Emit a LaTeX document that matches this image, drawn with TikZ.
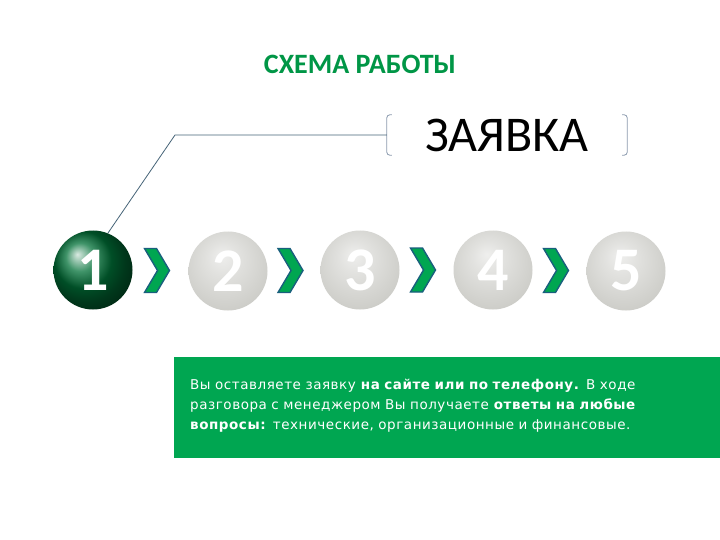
\documentclass[tikz,border=0pt]{standalone}
\usepackage{fontspec}
\setmainfont{Carlito}
\newfontfamily\bodyfont[LetterSpace=4]{DejaVu Sans}
\usepackage{tikz}
\usetikzlibrary{calc}
\definecolor{leaf}{RGB}{0,166,81}
\definecolor{title}{RGB}{0,150,70}
\definecolor{deep}{RGB}{0,112,55}
\definecolor{edge}{RGB}{25,95,125}
\definecolor{wire}{RGB}{70,100,120}
\definecolor{brace}{RGB}{140,155,175}
\definecolor{shell}{RGB}{190,190,184}

% light grey pearl
\pgfdeclareradialshading{pearl}{\pgfpoint{-4bp}{10bp}}{%
    color(0bp)=(shell!25); color(10bp)=(shell!45); color(28bp)=(shell!75);
    color(40bp)=(shell); color(46bp)=(shell!85!black); color(50bp)=(shell!70!black)}

\tikzset{
    orb/.style={circle, minimum size=79pt, inner sep=0pt,
            text=white, font=\fontsize{62}{62}\selectfont\bfseries},
    chev/.style={fill=leaf, draw=edge, line width=1.4pt, line join=miter},
}

\begin{document}
\begin{tikzpicture}[x=1pt, y=-1pt]

    \useasboundingbox[fill=white] (0,0) rectangle (720,540);

    \node[text=title, font=\fontsize{28}{28}\selectfont\bfseries] (head) at (360,64) {СХЕМА РАБОТЫ};

    \node[orb, shading=ball, ball color=deep] (s1) at (93,270) {1};
    \node[orb, shading=pearl] (s2) at (228,271) {2};
    \node[orb, shading=pearl] (s3) at (360,270) {3};
    \node[orb, shading=pearl] (s4) at (493,270) {4};
    \node[orb, shading=pearl] (s5) at (626,271) {5};

    \foreach \a/\b in {1/2, 2/3, 3/4, 4/5} {
            \draw[chev, shift={($(s\a.east)!0.5!(s\b.west)$)}]
            (-16,-22) -- (-4,-22) -- (9,0) -- (-4,22) -- (-16,22) -- (-3,0) -- cycle;
        }

    \node[minimum width=240pt, minimum height=40pt, inner sep=0pt,
        font=\fontsize{50}{50}\selectfont] (req) at (507,135) {ЗАЯВКА};
    \draw[brace, line width=0.8pt, rounded corners=3pt]
    ($(req.north west)+(5,0)$) -- (req.north west) -- (req.south west) -- ($(req.south west)+(5,0)$);
    \draw[brace, line width=0.8pt, rounded corners=3pt]
    ($(req.north east)+(-5,0)$) -- (req.north east) -- (req.south east) -- ($(req.south east)+(-5,0)$);

    \coordinate (bend) at (175,135);
    \draw[wire, line width=0.8pt] (s1.68) -- (bend) -- (req.west);

    \node[fill=leaf, minimum width=546pt, minimum height=101pt, inner sep=0pt,
        anchor=north west] (card) at (174,357) {};
    \node[anchor=north west, text=white, text width=530pt, align=left, inner sep=0pt,
        font=\bodyfont\fontsize{13.5}{20}\selectfont] (note) at (190,379)
    {Вы оставляете заявку \textbf{на сайте или по телефону.} В ходе\\
        разговора с менеджером Вы получаете \textbf{ответы на любые}\\
        \textbf{вопросы:} технические, организационные и финансовые.};

\end{tikzpicture}
\end{document}
